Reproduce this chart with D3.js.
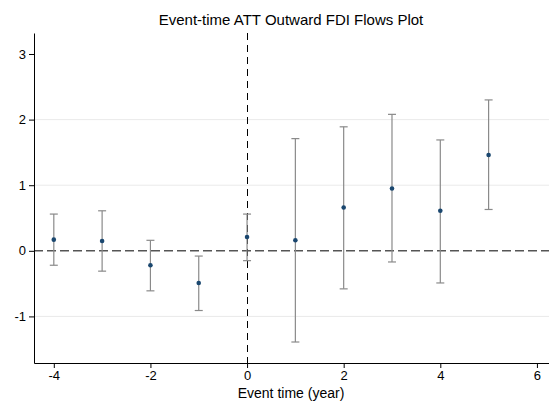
<!DOCTYPE html>
<html>
<head>
<meta charset="utf-8">
<script src="https://cdn.jsdelivr.net/npm/d3@7"></script>
<style>
  body { margin: 0; background: #fff; }
  svg { display: block; font-family: "Liberation Sans", Arial, sans-serif; }
</style>
</head>
<body>
<svg width="549" height="403"></svg>
<script>
// Event-time estimates
var eventTime = [-4, -3, -2, -1, 0, 1, 2, 3, 4, 5];
var att       = [0.17, 0.15, -0.22, -0.49, 0.21, 0.16, 0.66, 0.95, 0.61, 1.46];
var ciLower   = [-0.22, -0.31, -0.61, -0.91, -0.15, -1.39, -0.58, -0.17, -0.49, 0.63];
var ciUpper   = [0.56, 0.61, 0.16, -0.08, 0.56, 1.71, 1.89, 2.08, 1.69, 2.30];
var xTicks = [-4, -2, 0, 2, 4, 6];
var yTicks = [-1, 0, 1, 2, 3];
var gridVals = [-1, 1, 2];

var svg = d3.select("svg");
var plotLeft = 34, plotRight = 549, plotTop = 33, plotBottom = 363;

var x = d3.scaleLinear().domain([-4.41, 6.25]).range([plotLeft, plotRight]);
var y = d3.scaleLinear().domain([-1.71, 3.32]).range([plotBottom, plotTop]);

// title
svg.append("text")
    .attr("x", 291).attr("y", 25)
    .attr("text-anchor", "middle")
    .style("font-size", "15px")
    .text("Event-time ATT Outward FDI Flows Plot");

// grid lines
svg.selectAll(".grid").data(gridVals).enter().append("line")
    .attr("class", "grid")
    .attr("x1", plotLeft).attr("x2", plotRight)
    .attr("y1", d => y(d)).attr("y2", d => y(d))
    .style("stroke", "#eaeaea").style("stroke-width", 1);

// zero line
svg.append("line")
    .attr("x1", plotLeft).attr("x2", plotRight)
    .attr("y1", y(0)).attr("y2", y(0))
    .style("stroke", "#555").style("stroke-width", 1.5)
    .style("stroke-dasharray", "9,4");

// treatment line
svg.append("line")
    .attr("x1", Math.round(x(0)) + 0.5).attr("x2", Math.round(x(0)) + 0.5)
    .attr("y1", plotTop).attr("y2", plotBottom)
    .style("stroke", "#000").style("stroke-width", 1)
    .style("stroke-dasharray", "7,5");

var rows = eventTime.map((t, i) => ({t: t, b: att[i], lo: ciLower[i], hi: ciUpper[i]}));

// error bars
var eb = svg.append("g").style("stroke", "#8a8a8a").style("stroke-width", 1.2);
eb.selectAll(".ci").data(rows).enter().append("line")
    .attr("x1", d => x(d.t)).attr("x2", d => x(d.t))
    .attr("y1", d => y(d.lo)).attr("y2", d => y(d.hi));
eb.selectAll(".capHi").data(rows).enter().append("line")
    .attr("x1", d => x(d.t) - 4).attr("x2", d => x(d.t) + 4)
    .attr("y1", d => y(d.hi)).attr("y2", d => y(d.hi));
eb.selectAll(".capLo").data(rows).enter().append("line")
    .attr("x1", d => x(d.t) - 4).attr("x2", d => x(d.t) + 4)
    .attr("y1", d => y(d.lo)).attr("y2", d => y(d.lo));

// points
svg.selectAll(".pt").data(rows).enter().append("circle")
    .attr("cx", d => x(d.t)).attr("cy", d => y(d.b))
    .attr("r", 2.3)
    .style("fill", "#1a476f");

// axes
var fmt = d => String(d);
var yAxis = svg.append("g")
    .attr("transform", "translate(" + plotLeft + ",0)")
    .call(d3.axisLeft(y).tickValues(yTicks).tickSizeInner(5).tickSizeOuter(0).tickPadding(3).tickFormat(fmt));
var xAxis = svg.append("g")
    .attr("transform", "translate(0," + plotBottom + ")")
    .call(d3.axisBottom(x).tickValues(xTicks).tickSizeInner(5).tickSizeOuter(0).tickPadding(3).tickFormat(fmt));

[xAxis, yAxis].forEach(function(a) {
    a.select(".domain").style("stroke", "#000");
    a.selectAll("text").style("font-size", "13px").style("fill", "#000")
        .style("font-family", "'Liberation Sans', Arial, sans-serif");
});

svg.append("text")
    .attr("x", 291).attr("y", 398)
    .attr("text-anchor", "middle")
    .style("font-size", "14px")
    .text("Event time (year)");
</script>
</body>
</html>
